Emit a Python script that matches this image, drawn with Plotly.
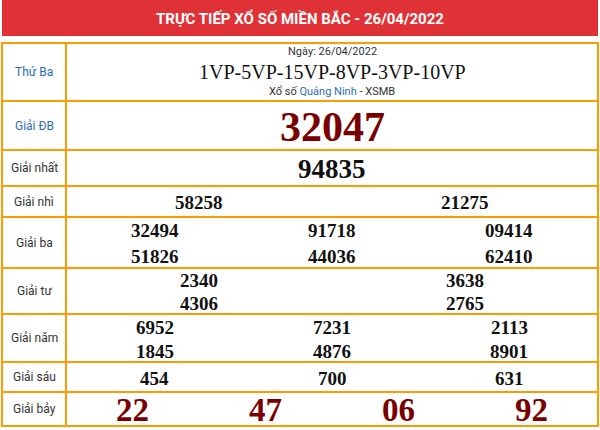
import plotly.graph_objects as go

title = "TRỰC TIẾP XỔ SỐ MIỀN BẮC - 26/04/2022"
day_label = "Thứ Ba"
date_text = "Ngày: 26/04/2022"
codes = "1VP-5VP-15VP-8VP-3VP-10VP"
row_labels = ["Giải ĐB", "Giải nhất", "Giải nhì", "Giải ba", "Giải tư", "Giải năm", "Giải sáu", "Giải bảy"]
prize_db = ["32047"]
prize_1 = ["94835"]
prize_2 = ["58258", "21275"]
prize_3 = ["32494", "91718", "09414", "51826", "44036", "62410"]
prize_4 = ["2340", "3638", "4306", "2765"]
prize_5 = ["6952", "7231", "2113", "1845", "4876", "8901"]
prize_6 = ["454", "700", "631"]
prize_7 = ["22", "47", "06", "92"]

prizes = [prize_db, prize_1, prize_2, prize_3, prize_4, prize_5, prize_6, prize_7]
ncols = [1, 1, 2, 3, 2, 3, 3, 4]
row_edges = [101, 150, 186, 217, 268, 314, 362, 392, 426]
sizes = [42, 27, 19, 19, 19, 19, 19, 33]
colors = ["#7a0000", "#111", "#111", "#111", "#111", "#111", "#111", "#7a0000"]

L, R, DIV, TOP = 2, 598, 66, 43
ORANGE = "#ff9a00"
fig = go.Figure()
shapes, ann = [], []
shapes.append(dict(type="rect", x0=2, x1=598, y0=0, y1=36, fillcolor="#e03236", line_width=0))
ann.append(dict(x=300, y=18, text="<b>" + title + "</b>", showarrow=False,
                font=dict(family="Roboto", size=15, color="white")))
shapes.append(dict(type="rect", x0=L, x1=R, y0=TOP, y1=row_edges[-1], line=dict(color=ORANGE, width=2)))
shapes.append(dict(type="line", x0=DIV, x1=DIV, y0=TOP, y1=row_edges[-1], line=dict(color=ORANGE, width=2)))
for y in row_edges[:-1]:
    shapes.append(dict(type="line", x0=L, x1=R, y0=y, y1=y, line=dict(color=ORANGE, width=2)))
ann.append(dict(x=DIV / 2 + 1, y=(TOP + 101) / 2, text=day_label, showarrow=False,
                font=dict(family="Roboto", size=12, color="#2e6db5")))
cx = (DIV + R) / 2
ann.append(dict(x=cx, y=51, text=date_text, showarrow=False, font=dict(family="Roboto", size=11, color="#333")))
ann.append(dict(x=cx, y=72, text=codes, showarrow=False, font=dict(family="Liberation Serif", size=20, color="#111")))
ann.append(dict(x=cx, y=91, text="Xổ số <span style='color:#2e6db5'>Quảng Ninh</span> - XSMB", showarrow=False,
                font=dict(family="Roboto", size=11, color="#333")))
for i, lab in enumerate(row_labels):
    y0, y1 = row_edges[i], row_edges[i + 1]
    ann.append(dict(x=DIV / 2 + 1, y=(y0 + y1) / 2, text=lab, showarrow=False,
                    font=dict(family="Roboto", size=12, color="#2e6db5" if i == 0 else "#333")))
    vals = prizes[i]
    n = ncols[i]
    nrows = (len(vals) + n - 1) // n
    w = (R - DIV) / n
    h = (y1 - y0) / nrows
    for k, v in enumerate(vals):
        c, r = k % n, k // n
        ann.append(dict(x=DIV + w * (c + 0.5), y=y0 + h * (r + 0.5) + 1, text="<b>" + v + "</b>", showarrow=False,
                        font=dict(family="Liberation Serif", size=sizes[i], color=colors[i])))

fig.update_layout(width=600, height=430, margin=dict(l=0, r=0, t=0, b=0),
                  paper_bgcolor="white", plot_bgcolor="white", shapes=shapes, annotations=ann,
                  xaxis=dict(range=[0, 600], visible=False, fixedrange=True),
                  yaxis=dict(range=[430, 0], visible=False, fixedrange=True), showlegend=False)
fig.write_html("out.html", config={"displayModeBar": False},
               post_script="document.body.style.margin='0';document.body.style.overflow='hidden';")
